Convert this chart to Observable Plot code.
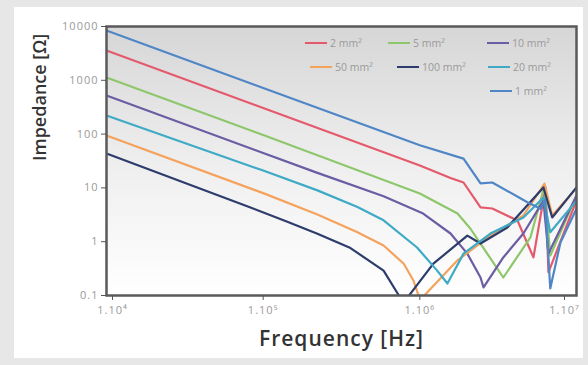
<!DOCTYPE html>
<html><head><meta charset="utf-8">
<script src="https://cdn.jsdelivr.net/npm/d3@7"></script>
<script src="https://cdn.jsdelivr.net/npm/@observablehq/plot@0.6"></script>
<style>
body{margin:0;background:#e7e7e7;width:588px;height:365px;overflow:hidden;font-family:"Open Sans",sans-serif}
#panel{position:absolute;left:14px;top:7px;width:569px;height:351px;background:#fff}
#chart{position:absolute;left:0;top:0}
#chart svg{overflow:visible}
#chart g[aria-label="y-axis tick label"] text,#chart g[aria-label="x-axis tick label"] text{letter-spacing:1px}
#chart g.ttl text{letter-spacing:1px}
.lg{position:absolute;display:flex;align-items:center;font-size:10.5px;color:#9a9a9a;white-space:nowrap}
.lg span.sw{display:inline-block;width:22px;height:2px;margin-right:3px}
</style></head><body>
<div id="panel"></div><div id="chart"></div><div id="legend"></div>
<script>
// Frequency [Hz] / impedance [Ω], one pair of arrays per cross-section
const f_2mm = [1e4, 1e5, 1e6, 1.57e6, 1.9e6, 2.44e6, 2.9e6, 4.2e6, 5.31e6, 6.34e6, 6.62e6, 1e7];
const z_2mm = [3580, 305, 26, 15.3, 12.6, 4.33, 4.14, 2.48, 0.51, 10.2, 0.27, 5.84];
const f_5mm = [1e4, 1e5, 1e6, 1.74e6, 2.1e6, 3.41e6, 5.08e6, 6.25e6, 6.8e6, 1e7];
const z_5mm = [1127, 96, 7.9, 3.34, 1.76, 0.216, 1.2, 11, 0.55, 7.2];
const f_10mm = [1e4, 1e5, 2.22e5, 5.87e5, 1.05e6, 1.57e6, 2.01e6, 2.44e6, 2.55e6, 3.41e6, 4.58e6, 6.15e6, 6.62e6, 1e7];
const z_10mm = [521, 44.6, 19, 7.0, 3.34, 1.42, 0.60, 0.216, 0.141, 0.51, 1.42, 5.8, 0.6, 7.2];
const f_50mm = [1e4, 1e5, 2.22e5, 4e5, 5.87e5, 7.9e5, 9.1e5, 1.0e6, 1.05e6, 1.74e6, 2.82e6, 4.58e6, 6.25e6, 7.0e6, 1e7];
const z_50mm = [94, 8.0, 3.2, 1.5, 0.85, 0.39, 0.19, 0.085, 0.095, 0.45, 1.3, 3.07, 12, 3.07, 9.9];
const f_100mm = [1e4, 8.3e4, 1.4e5, 2.22e5, 3.61e5, 5.87e5, 7.2e5, 7.6e5, 8.3e5, 1.22e6, 2.01e6, 2.44e6, 3.62e6, 6.15e6, 7.0e6, 1e7];
const z_100mm = [43.6, 4.33, 2.4, 1.41, 0.76, 0.29, 0.11, 0.085, 0.09, 0.39, 1.30, 0.925, 1.84, 10.2, 2.82, 10.2];
const f_20mm = [1e4, 1e5, 2.22e5, 4e5, 5.87e5, 9.6e5, 1.29e6, 1.5e6, 1.9e6, 2.82e6, 4.58e6, 6.15e6, 6.8e6, 1e7];
const z_20mm = [222, 21, 9.0, 4.4, 2.5, 0.78, 0.29, 0.167, 0.60, 1.42, 2.82, 6.6, 1.5, 5.8];
const f_1mm = [1e4, 1e5, 1e6, 1.9e6, 2.44e6, 2.9e6, 4.86e6, 5.9e6, 6.3e6, 6.8e6, 7.9e6, 1e7];
const z_1mm = [8430, 720, 62, 35, 12.1, 12.6, 5.4, 4.1, 6.0, 0.135, 0.97, 4.1];

const seriesNames = ["2 mm²", "5 mm²", "10 mm²", "50 mm²", "100 mm²", "20 mm²", "1 mm²"];
const seriesColors = ["#e45a6c", "#8ec76b", "#6b5ca3", "#f4a25c", "#2d3c6c", "#3eaac6", "#4f86c6"];
const seriesF = [f_2mm, f_5mm, f_10mm, f_50mm, f_100mm, f_20mm, f_1mm];
const seriesZ = [z_2mm, z_5mm, z_10mm, z_50mm, z_100mm, z_20mm, z_1mm];

const xTicks = [1e4, 1e5, 1e6, 1e7];
const xTickLabels = ["1.10⁴", "1.10⁵", "1.10⁶", "1.10⁷"];
const yTicks = [0.1, 1, 10, 100, 1000, 10000];
const yTickLabels = ["0.1", "1", "10", "100", "1000", "10000"];

const rows = seriesNames.flatMap((name, k) => seriesF[k].map((f, i) => ({name, f, z: seriesZ[k][i]})));
const xFmt = d => xTickLabels[xTicks.indexOf(d)];
const xAxisStyle = {tickSize: 5, tickPadding: 6, fontSize: 11, fill: "#9a9a9a", stroke: "#555", label: null, tickFormat: xFmt};

const svg = Plot.plot({
  width: 588, height: 365,
  marginLeft: 106, marginRight: 12, marginTop: 26, marginBottom: 70,
  style: {background: "transparent", fontFamily: "Open Sans, sans-serif"},
  x: {type: "log", domain: [1e4, 1e7]},
  y: {type: "log", domain: [0.1, 10000]},
  color: {domain: seriesNames, range: seriesColors},
  marks: [
    Plot.frame({fill: "url(#bggrad)"}),
    Plot.line(rows, {x: "f", y: "z", z: "name", stroke: "name", strokeWidth: 2.2, clip: true}),
    Plot.frame({stroke: "#5a5a5a", strokeWidth: 2.5}),
    Plot.axisY({ticks: yTicks, tickFormat: d => yTickLabels[yTicks.indexOf(d)], tickSize: 5, tickPadding: 3, fontSize: 11, fill: "#9a9a9a", stroke: "#555", label: null}),
    Plot.axisX({...xAxisStyle, ticks: xTicks.slice(0, 1), dx: 6}),
    Plot.axisX({...xAxisStyle, ticks: xTicks.slice(1, 3)}),
    Plot.axisX({...xAxisStyle, ticks: xTicks.slice(3), dx: -12}),
    Plot.text(["Frequency [Hz]"], {frameAnchor: "bottom", dy: 50, fontSize: 21, fontWeight: 600, fill: "#333", className: "ttl"}),
    Plot.text(["Impedance [Ω]"], {frameAnchor: "left", dx: -66, rotate: -90, fontSize: 18, fontWeight: 600, fill: "#333"})
  ]
});
d3.select(svg).insert("defs", ":first-child").html(
  '<linearGradient id="bggrad" x1="0" y1="0" x2="0" y2="1">' +
  '<stop offset="0" stop-color="#d6d6d6"/><stop offset="0.5" stop-color="#eeeeee"/><stop offset="1" stop-color="#ffffff"/></linearGradient>');
document.getElementById("chart").appendChild(svg);

// legend (inside the plot, top right)
const legendPos = [[305, 36], [388, 36], [487, 36], [310, 60], [397, 60], [488, 60], [490, 84]];
const lg = document.getElementById("legend");
seriesNames.forEach((name, k) => {
  const d = document.createElement("div");
  d.className = "lg";
  d.style.left = legendPos[k][0] + "px";
  d.style.top = legendPos[k][1] + "px";
  d.innerHTML = `<span class="sw" style="background:${seriesColors[k]}"></span>${name}`;
  lg.appendChild(d);
});
</script>
</body></html>
